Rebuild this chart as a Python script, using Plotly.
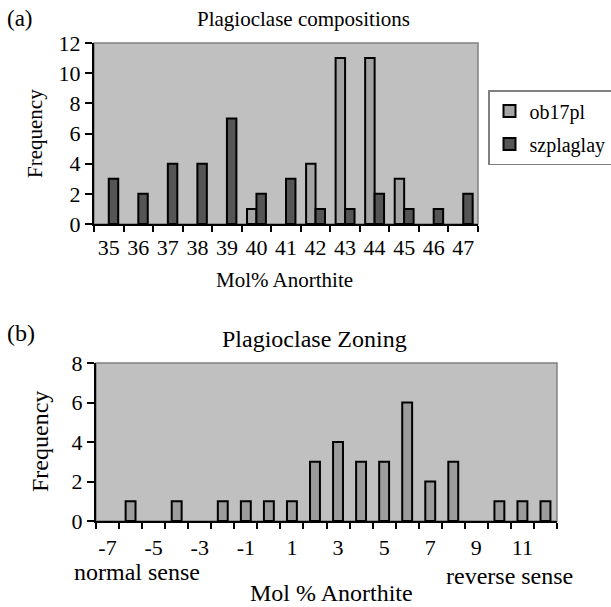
import plotly.graph_objects as go

# ---- data ----
comp_cats = [35, 36, 37, 38, 39, 40, 41, 42, 43, 44, 45, 46, 47]
ob17pl = [0, 0, 0, 0, 0, 1, 0, 4, 11, 11, 3, 0, 0]
szplaglay = [3, 2, 4, 4, 7, 2, 3, 1, 1, 2, 1, 1, 2]

zone_cats = [-7, -6, -5, -4, -3, -2, -1, 0, 1, 2, 3, 4, 5, 6, 7, 8, 9, 10, 11, 12]
zone_freq = [0, 1, 0, 1, 0, 1, 1, 1, 1, 3, 4, 3, 3, 6, 2, 3, 0, 1, 1, 1]
zone_ticks = [-7, -5, -3, -1, 1, 3, 5, 7, 9, 11]

W, H = 611, 607
FONT = "Liberation Serif"

def px_x(v):
    return v / W

def px_y(v):
    return 1 - v / H

def nz(vals):
    # zero-height bars are not drawn (avoid outline slivers)
    return [v if v else None for v in vals]

fig = go.Figure()
fig.add_trace(go.Bar(x=comp_cats, y=nz(ob17pl), name="ob17pl", legendgroup="a",
                     marker=dict(color="#a4a4a4", line=dict(color="black", width=2)),
                     xaxis="x", yaxis="y"))
fig.add_trace(go.Bar(x=comp_cats, y=nz(szplaglay), name="szplaglay", legendgroup="b",
                     marker=dict(color="#555555", line=dict(color="black", width=2)),
                     xaxis="x", yaxis="y"))
fig.add_trace(go.Bar(x=zone_cats, y=nz(zone_freq), name="zoning", showlegend=False,
                     marker=dict(color="#9c9c9c", line=dict(color="black", width=2)),
                     xaxis="x2", yaxis="y2", width=0.43))

common_x = dict(showline=True, linecolor="black", linewidth=2, ticks="", showgrid=False, zeroline=False,
                automargin=False)
common_y = dict(showline=True, linecolor="black", linewidth=2, ticks="outside", ticklen=7, tickcolor="black",
                tickwidth=1.5, showgrid=False, zeroline=False, automargin=False)
minor_ticks = dict(tickmode="linear", tick0=0.5, dtick=1, ticks="outside", ticklen=6, tickcolor="black", tickwidth=1.5)

fig.update_layout(
    width=W, height=H,
    margin=dict(l=0, r=0, t=0, b=0, autoexpand=False),
    paper_bgcolor="white",
    plot_bgcolor="#c0c0c0",
    barmode="group", bargap=0.36, bargroupgap=0,
    font=dict(family=FONT, color="black"),
    xaxis=dict(common_x, domain=[px_x(94), px_x(478)], range=[34.5, 47.5], tickmode="array", tickvals=comp_cats,
               ticktext=[str(c) for c in comp_cats], minor=minor_ticks, anchor="y",
               tickfont=dict(family=FONT, size=22, color="black"), ticklabelstandoff=3),
    yaxis=dict(common_y, domain=[px_y(224), px_y(43)], range=[0, 12], dtick=2, anchor="x",
               tickfont=dict(family=FONT, size=22, color="black")),
    xaxis2=dict(common_x, domain=[px_x(96), px_x(557)], range=[-7.5, 12.5], tickmode="array", tickvals=zone_ticks,
                ticktext=[str(t) for t in zone_ticks], minor=minor_ticks, anchor="y2",
                tickfont=dict(family=FONT, size=22, color="black"), ticklabelstandoff=6),
    yaxis2=dict(common_y, domain=[px_y(521), px_y(363)], range=[0, 8], dtick=2, anchor="x2",
                tickfont=dict(family=FONT, size=22, color="black")),
    legend=dict(x=px_x(488), y=px_y(90), xanchor="left", yanchor="top", bgcolor="white", bordercolor="#808080",
                borderwidth=1.5, font=dict(family=FONT, size=20, color="black"), traceorder="grouped",
                tracegroupgap=4, itemwidth=30),
)

# grey outline for plot areas (top/right edges)
for xr, yr in [("x domain", "y domain"), ("x2 domain", "y2 domain")]:
    fig.add_shape(type="rect", xref=xr, yref=yr, x0=0, x1=1, y0=0, y1=1,
                  line=dict(color="#808080", width=1.5), layer="below")

def ann(text, x, y, size, angle=0):
    fig.add_annotation(text=text, x=px_x(x), y=px_y(y), xref="paper", yref="paper", showarrow=False,
                       xanchor="center", yanchor="middle", textangle=angle,
                       font=dict(family=FONT, size=size, color="black"))

ann("(a)", 20, 18, 23)
ann("Plagioclase compositions", 303, 19, 21)
ann("Frequency", 35, 134, 21, -90)
ann("Mol% Anorthite", 284, 280, 21)
ann("(b)", 21, 333, 24)
ann("Plagioclase Zoning", 314, 339, 24)
ann("Frequency", 40, 442, 24, -90)
ann("normal sense", 137, 572, 24)
ann("reverse sense", 509, 576, 24)
ann("Mol % Anorthite", 331, 593, 24)

fig.write_html("out.html")
